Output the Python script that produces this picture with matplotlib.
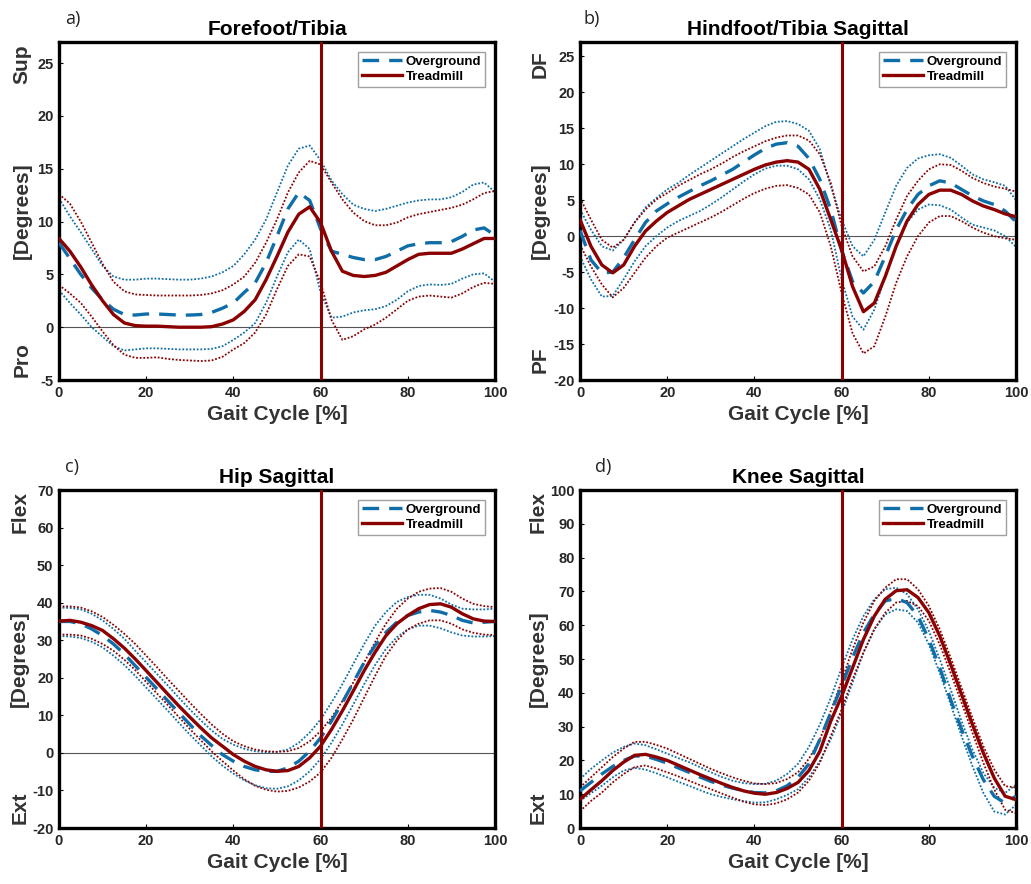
import matplotlib
matplotlib.use("Agg")
import matplotlib.pyplot as plt

plt.rcParams["font.family"] = ["Liberation Sans", "DejaVu Sans"]
plt.rcParams["axes.unicode_minus"] = False

# gait cycle sample points (%), every 2.5 %
gait = [i * 2.5 for i in range(41)]

# a) Forefoot/Tibia
ff_og_mean = [8.0, 6.5, 5.0, 3.7, 2.6, 1.7, 1.2, 1.15, 1.25, 1.25, 1.2, 1.15, 1.15, 1.2, 1.4, 1.8, 2.3,
              3.3, 4.2, 6.1, 8.6, 11.2, 12.75, 12.0, 9.3, 7.2, 6.9, 6.6, 6.4, 6.4, 6.7, 7.2, 7.7,
              7.9, 8.0, 8.0, 8.1, 8.6, 9.2, 9.4, 8.7]
ff_og_up = [12.2, 10.5, 9.0, 7.4, 5.8, 4.8, 4.5, 4.5, 4.6, 4.6, 4.55, 4.5, 4.5, 4.6, 4.8, 5.2, 5.8,
            6.9, 8.3, 10.2, 12.75, 15.3, 16.9, 17.2, 15.8, 13.9, 12.6, 11.6, 11.2, 11.0, 11.2, 11.5,
            11.8, 12.0, 12.1, 12.1, 12.3, 12.8, 13.5, 13.7, 12.8]
ff_og_lo = [3.5, 2.3, 1.2, 0.0, -0.9, -1.8, -2.2, -2.1, -2.0, -2.0, -2.05, -2.1, -2.1, -2.1, -2.05,
            -1.8, -1.2, -0.5, 0.4, 2.3, 4.8, 7.1, 8.3, 7.4, 3.3, 0.9, 1.0, 1.4, 1.6, 1.7, 2.0, 2.6,
            3.4, 3.9, 4.05, 4.0, 4.1, 4.6, 5.0, 5.1, 4.3]
ff_tm_mean = [8.4, 7.2, 5.7, 4.0, 2.5, 1.2, 0.4, 0.15, 0.1, 0.1, 0.05, 0.0, 0.0, 0.0, 0.05, 0.3, 0.7,
              1.5, 2.6, 4.5, 6.7, 9.0, 10.7, 11.4, 9.9, 7.2, 5.3, 4.9, 4.8, 4.9, 5.2, 5.8, 6.4,
              6.9, 7.0, 7.0, 7.0, 7.4, 7.9, 8.4, 8.4]
ff_tm_up = [12.6, 11.7, 10.0, 8.0, 6.0, 4.3, 3.4, 3.1, 3.05, 3.0, 3.0, 3.0, 3.0, 3.05, 3.2, 3.5, 4.05,
            4.8, 6.1, 8.0, 10.2, 12.75, 14.65, 15.75, 15.4, 13.7, 12.1, 10.85, 10.05, 9.65, 9.65,
            9.9, 10.4, 10.7, 10.9, 11.1, 11.3, 11.6, 12.1, 12.7, 12.9]
ff_tm_lo = [4.0, 3.2, 2.3, 1.0, -0.4, -1.7, -2.6, -2.9, -2.9, -2.85, -3.0, -3.1, -3.15, -3.2, -3.15,
            -2.8, -2.1, -1.5, -0.5, 1.2, 3.6, 5.8, 6.9, 6.7, 4.2, 0.7, -1.2, -0.85, -0.2, 0.25, 0.9,
            1.7, 2.5, 2.9, 3.0, 2.9, 2.8, 3.2, 3.8, 4.2, 4.1]

# b) Hindfoot/Tibia Sagittal
hf_og_mean = [0.8, -3.3, -5.1, -5.0, -3.0, -0.5, 1.9, 3.5, 4.5, 5.4, 6.2, 7.0, 7.7, 8.5, 9.3, 10.3,
              11.3, 12.2, 12.8, 13.0, 12.5, 10.8, 7.9, 3.7, -2.0, -6.3, -7.9, -6.3, -2.8, 0.9, 3.7,
              5.8, 7.0, 7.7, 7.4, 6.5, 5.6, 4.9, 4.4, 3.5, 2.0]
hf_og_up = [3.7, 0.9, -1.4, -2.0, -0.5, 1.9, 4.0, 5.3, 6.5, 7.4, 8.5, 9.5, 10.5, 11.5, 12.5, 13.5,
            14.4, 15.3, 15.9, 16.0, 15.6, 14.65, 12.1, 7.0, 2.3, -1.4, -2.8, -0.5, 3.3, 7.0, 9.5,
            10.8, 11.25, 11.4, 10.9, 9.8, 8.6, 7.9, 7.5, 7.0, 5.0]
hf_og_lo = [-2.8, -6.0, -8.4, -8.3, -6.0, -3.5, -1.4, 0.0, 1.2, 2.1, 2.8, 3.5, 4.4, 5.4, 6.5, 7.6,
            8.6, 9.4, 9.8, 9.8, 9.3, 7.9, 5.1, 0.9, -6.0, -11.2, -13.0, -10.2, -5.6, -1.4, 1.9,
            3.7, 4.4, 4.3, 3.7, 2.6, 1.6, 1.2, 0.8, 0.0, -1.5]
hf_tm_mean = [2.3, -1.4, -4.0, -5.1, -4.0, -1.4, 0.7, 2.1, 3.3, 4.2, 5.1, 5.8, 6.5, 7.2, 7.9, 8.6,
              9.3, 9.9, 10.3, 10.5, 10.3, 9.3, 6.5, 2.3, -1.9, -7.0, -10.5, -9.3, -5.6, -1.4, 2.1,
              4.4, 5.8, 6.4, 6.4, 5.8, 4.9, 4.2, 3.7, 3.1, 2.7]
hf_tm_up = [5.3, 2.3, -0.5, -1.6, -0.5, 1.9, 3.7, 5.1, 6.0, 7.0, 7.8, 8.6, 9.3, 10.1, 11.0, 11.8,
            12.5, 13.2, 13.7, 14.0, 14.0, 13.3, 11.4, 7.4, 1.4, -2.8, -4.9, -4.2, -1.4, 2.3, 5.6,
            7.7, 9.3, 10.0, 9.9, 9.1, 8.1, 7.4, 6.9, 6.6, 6.2]
hf_tm_lo = [-1.2, -4.2, -6.7, -8.5, -7.2, -5.1, -3.0, -1.4, -0.2, 0.5, 1.2, 1.9, 2.6, 3.4, 4.3, 5.2,
            6.0, 6.6, 7.0, 7.1, 6.7, 5.8, 3.3, -1.4, -7.9, -13.5, -16.3, -15.3, -11.2, -6.5, -2.8,
            0.0, 1.9, 2.8, 2.8, 2.1, 1.2, 0.5, 0.0, -0.3, -0.5]

# c) Hip Sagittal
hip_og_mean = [35.0, 35.0, 34.4, 33.0, 31.25, 29.0, 26.3, 23.2, 20.1, 17.0, 13.8, 10.7, 7.6, 4.6, 2.0,
               -0.45, -2.2, -3.6, -4.5, -4.9, -4.9, -4.0, -2.2, 0.45, 4.0, 8.5, 13.4, 18.75, 24.1,
               28.6, 32.1, 34.8, 36.6, 37.5, 37.95, 37.5, 36.6, 35.3, 34.6, 34.8, 35.0]
hip_og_up = [38.7, 38.6, 38.2, 37.05, 35.3, 33.0, 30.4, 27.2, 24.1, 21.0, 17.9, 14.7, 11.6, 8.7, 6.0,
             3.75, 2.2, 1.1, 0.45, 0.2, 0.3, 0.9, 2.7, 5.4, 8.9, 13.4, 18.3, 23.7, 29.0, 33.9, 37.5,
             40.2, 41.5, 42.1, 42.1, 41.1, 39.5, 38.4, 38.2, 38.2, 38.4]
hip_og_lo = [31.1, 31.0, 30.6, 29.6, 28.1, 25.9, 23.4, 20.5, 17.4, 14.3, 11.2, 8.0, 4.9, 2.0, -0.9,
             -3.4, -5.5, -7.3, -8.6, -9.4, -9.55, -8.9, -7.3, -4.9, -1.6, 2.7, 7.6, 12.9, 18.3,
             23.4, 27.7, 30.8, 32.9, 33.9, 33.9, 33.2, 32.1, 31.25, 31.0, 31.0, 31.1]
hip_tm_mean = [35.1, 35.3, 34.8, 33.9, 32.6, 30.4, 27.9, 25.0, 21.9, 18.75, 15.6, 12.5, 9.55, 6.7, 4.0,
               1.8, -0.45, -2.2, -3.6, -4.5, -4.9, -4.7, -3.6, -1.3, 1.8, 6.25, 11.2, 16.5, 21.9,
               26.8, 31.25, 34.4, 36.6, 38.4, 39.5, 39.7, 38.8, 37.05, 35.7, 35.1, 35.0]
hip_tm_up = [39.0, 39.0, 38.7, 37.7, 36.2, 34.1, 31.7, 29.0, 25.9, 22.8, 19.6, 16.5, 13.4, 10.4, 7.6,
             5.1, 3.1, 1.8, 0.9, 0.45, 0.3, 0.45, 1.3, 3.1, 5.8, 9.4, 13.8, 18.75, 24.1, 29.5,
             34.4, 38.4, 41.1, 42.9, 43.75, 43.9, 42.9, 41.1, 39.7, 39.1, 38.8]
hip_tm_lo = [31.5, 31.5, 31.25, 30.4, 29.0, 27.2, 24.8, 22.05, 18.9, 15.8, 12.7, 9.55, 6.4, 3.4, 0.45,
             -2.2, -4.7, -7.0, -8.75, -9.8, -10.3, -10.1, -9.2, -7.6, -5.2, -1.3, 3.6, 8.9, 14.7,
             20.5, 25.9, 29.9, 32.9, 34.4, 35.3, 35.3, 34.4, 32.9, 32.0, 31.5, 31.4]

# d) Knee Sagittal
kn_og_mean = [11.0, 13.5, 16.0, 18.2, 20.0, 21.3, 21.3, 20.3, 19.2, 17.8, 16.5, 15.1, 13.8, 12.7, 11.8,
              11.1, 10.5, 10.4, 11.0, 12.5, 15.0, 19.0, 26.2, 34.1, 42.0, 50.4, 57.8, 63.2, 67.2,
              67.9, 66.7, 62.7, 55.8, 47.4, 38.0, 29.2, 21.2, 14.3, 9.4, 7.4, 9.4]
kn_og_up = [14.5, 17.5, 20.0, 22.3, 24.0, 25.0, 24.5, 23.3, 22.0, 20.7, 19.5, 18.0, 16.5, 15.1, 14.0,
            13.3, 13.0, 13.1, 14.0, 16.0, 19.0, 24.0, 30.6, 38.5, 47.4, 55.8, 62.7, 67.7, 70.65,
            71.1, 69.2, 64.7, 58.3, 49.9, 41.0, 31.6, 23.2, 16.3, 11.9, 10.4, 12.8]
kn_og_lo = [8.0, 10.3, 12.5, 15.0, 17.0, 17.8, 17.3, 16.2, 15.0, 13.7, 12.5, 11.2, 10.0, 9.2, 8.5,
            8.0, 7.5, 7.6, 8.5, 9.8, 11.5, 15.0, 19.8, 26.2, 34.1, 43.0, 51.9, 58.8, 63.2, 64.7,
            64.2, 60.8, 54.3, 45.9, 36.6, 27.2, 18.3, 10.4, 4.9, 4.0, 6.9]
kn_tm_mean = [8.5, 11.3, 14.0, 17.0, 19.5, 21.5, 21.8, 21.0, 20.0, 18.6, 17.2, 15.8, 14.5, 13.2, 12.0,
              11.0, 10.3, 10.0, 10.5, 11.7, 13.5, 17.0, 22.7, 31.6, 39.0, 47.4, 55.8, 62.7, 67.7,
              70.2, 70.5, 68.2, 63.7, 56.8, 48.4, 39.5, 30.6, 22.2, 14.8, 9.4, 8.4]
kn_tm_up = [12.0, 15.0, 18.0, 21.0, 23.5, 25.5, 25.5, 24.6, 23.5, 22.0, 20.5, 19.0, 17.5, 16.2, 15.0,
            14.0, 13.2, 13.0, 13.3, 14.5, 16.5, 20.5, 26.2, 34.6, 43.5, 52.9, 60.8, 67.2, 71.1,
            73.6, 73.6, 70.65, 65.7, 58.8, 50.4, 41.5, 32.6, 24.2, 17.3, 12.4, 12.0]
kn_tm_lo = [5.0, 8.0, 10.5, 13.5, 16.0, 18.0, 18.5, 17.6, 16.5, 15.3, 14.0, 12.7, 11.5, 10.2, 9.0,
            7.8, 7.0, 6.8, 7.3, 8.5, 10.5, 14.0, 19.3, 27.2, 35.1, 44.0, 51.9, 58.8, 63.7, 66.7,
            67.2, 65.7, 61.3, 54.3, 45.9, 37.1, 28.2, 19.3, 11.4, 5.4, 4.4]

toe_off = 60

OG_COLOR = "#0f6ea8"
TM_COLOR = "#8b0000"
LABEL_COLOR = "#333333"


def draw_panel(ax, tag, tag_x, title, og, tm, ylim, yticks, top_word, bottom_word, word_x):
    ax.axhline(0, color="#555555", lw=0.8, zorder=1)
    for series, col in ((og, OG_COLOR), (tm, TM_COLOR)):
        ax.plot(gait, series[1], color=col, lw=1.3, ls=(0, (1, 1)), zorder=2)
        ax.plot(gait, series[2], color=col, lw=1.3, ls=(0, (1, 1)), zorder=2)
    ax.plot(gait, og[0], color=OG_COLOR, lw=2.4, ls=(0, (5, 3)), label="Overground", zorder=3)
    ax.plot(gait, tm[0], color=TM_COLOR, lw=2.4, label="Treadmill", zorder=3)
    ax.axvline(toe_off, color=TM_COLOR, lw=2.2, zorder=4)

    ax.set_xlim(0, 100)
    ax.set_ylim(*ylim)
    ax.set_xticks(range(0, 101, 20))
    ax.set_yticks(yticks)
    ax.tick_params(direction="in", length=3, width=0.8, labelsize=10.5,
                   labelcolor="#262626", pad=4)
    for lab in ax.get_xticklabels() + ax.get_yticklabels():
        lab.set_fontweight("bold")
    for sp in ax.spines.values():
        sp.set_linewidth(2.4)
        sp.set_color("black")

    ax.set_title(title, fontsize=15, fontweight="bold", pad=5)
    ax.set_xlabel("Gait Cycle [%]", fontsize=15, fontweight="bold", color=LABEL_COLOR, labelpad=4)
    ax.text(word_x, 0.5, "[Degrees]", transform=ax.transAxes, rotation=90, ha="center",
            va="center", fontsize=15, fontweight="bold", color=LABEL_COLOR)
    ax.text(word_x, 0.935, top_word, transform=ax.transAxes, rotation=90, ha="center",
            va="center", fontsize=15, fontweight="bold", color=LABEL_COLOR)
    ax.text(word_x, 0.06, bottom_word, transform=ax.transAxes, rotation=90, ha="center",
            va="center", fontsize=15, fontweight="bold", color=LABEL_COLOR)
    ax.text(tag_x, 1.068, tag, transform=ax.transAxes, ha="left", va="center",
            fontsize=13, family=["Open Sans", "DejaVu Sans"], color="#222222")

    leg = ax.legend(loc="upper right", fontsize=9.5, frameon=True, fancybox=False,
                    handlelength=3.0, borderpad=0.3, labelspacing=0.2,
                    handletextpad=0.3, borderaxespad=0.75)
    leg.get_frame().set_edgecolor("#888888")
    leg.get_frame().set_linewidth(1.0)
    for t in leg.get_texts():
        t.set_fontweight("bold")


fig = plt.figure(figsize=(10.31, 8.84), dpi=100)
w, h = 0.4229, 0.3824
ax_a = fig.add_axes([0.0572, 0.5701, w, h])
ax_b = fig.add_axes([0.5626, 0.5701, w, h])
ax_c = fig.add_axes([0.0572, 0.0633, w, h])
ax_d = fig.add_axes([0.5626, 0.0633, w, h])

draw_panel(ax_a, "a)", 0.014, "Forefoot/Tibia",
           (ff_og_mean, ff_og_up, ff_og_lo), (ff_tm_mean, ff_tm_up, ff_tm_lo),
           (-5, 27), range(-5, 26, 5), "Sup", "Pro", -0.085)
draw_panel(ax_b, "b)", 0.007, "Hindfoot/Tibia Sagittal",
           (hf_og_mean, hf_og_up, hf_og_lo), (hf_tm_mean, hf_tm_up, hf_tm_lo),
           (-20, 27), range(-20, 26, 5), "DF", "PF", -0.092)
draw_panel(ax_c, "c)", 0.014, "Hip Sagittal",
           (hip_og_mean, hip_og_up, hip_og_lo), (hip_tm_mean, hip_tm_up, hip_tm_lo),
           (-20, 70), range(-20, 71, 10), "Flex", "Ext", -0.09)
draw_panel(ax_d, "d)", 0.035, "Knee Sagittal",
           (kn_og_mean, kn_og_up, kn_og_lo), (kn_tm_mean, kn_tm_up, kn_tm_lo),
           (0, 100), range(0, 101, 10), "Flex", "Ext", -0.095)

fig.savefig("out.png", dpi=100)
